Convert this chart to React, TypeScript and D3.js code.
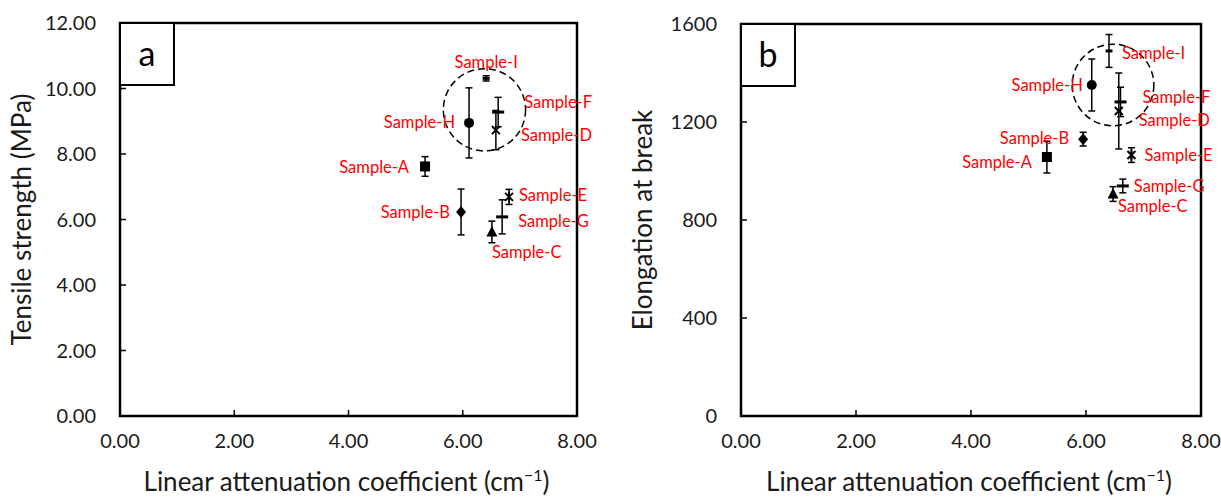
import React from 'react';
import * as d3 from 'd3';

// sample names and markers
const samples = ["Sample-A", "Sample-B", "Sample-C", "Sample-D", "Sample-E", "Sample-F", "Sample-G", "Sample-H", "Sample-I"];
const markers = ["square", "diamond", "triangle", "x", "star", "longbar", "longbar", "circle", "shortbar"];

// panel a: tensile strength
const attenuationA = [5.34, 5.97, 6.51, 6.58, 6.81, 6.62, 6.69, 6.11, 6.41];
const tensile = [7.62, 6.23, 5.62, 8.73, 6.69, 9.28, 6.08, 8.95, 10.31];
const tensileErr = [0.3, 0.7, 0.33, 0.6, 0.23, 0.45, 0.52, 1.07, 0.08];

// panel b: elongation at break
const attenuationB = [5.32, 5.95, 6.47, 6.57, 6.79, 6.6, 6.64, 6.1, 6.4];
const elongation = [1057, 1130, 906, 1245, 1065, 1282, 939, 1351, 1490];
const elongationErr = [65, 28, 30, 155, 30, 60, 28, 106, 67];

const xTicks = [0, 2, 4, 6, 8];
const yTicksA = [0, 2, 4, 6, 8, 10, 12];
const yTicksB = [0, 400, 800, 1200, 1600];

// label placement [anchor, dx, dy]
const labelsA: [string, number, number][] = [
  ["end", -16, 1], ["end", -11, 0], ["start", 0, 20], ["start", 25, 5], ["start", 10, -2],
  ["start", 26, -10], ["start", 16, 4], ["end", -14, -1], ["middle", 0, -16],
];
const labelsB: [string, number, number][] = [
  ["end", -15, 5], ["end", -14, -1], ["start", 5, 12], ["start", 20, 9], ["start", 13, 0],
  ["start", 22, -5], ["start", 11, 0], ["end", -9, 0], ["start", 13, 2],
];

const font = "Lato, 'Open Sans', sans-serif";

function Marker({ type }: { type: string }) {
  if (type === "circle") return <circle r={5} fill="#000" />;
  if (type === "square") return <rect x={-5} y={-5} width={10} height={10} fill="#000" />;
  if (type === "diamond") return <path d="M0,-6L5,0L0,6L-5,0Z" fill="#000" />;
  if (type === "triangle") return <path d="M0,-6L5.5,4.5L-5.5,4.5Z" fill="#000" />;
  if (type === "x") return <path d="M-4,-4L4,4M-4,4L4,-4" stroke="#000" strokeWidth={2} />;
  if (type === "star") return <path d="M-4,-4L4,4M-4,4L4,-4M0,-5.5L0,5.5" stroke="#000" strokeWidth={2} />;
  if (type === "longbar") return <rect x={-6} y={-1.5} width={12} height={3} fill="#000" />;
  return <rect x={-3.5} y={-1.5} width={7} height={3} fill="#000" />;
}

interface PanelProps {
  left: number; top: number; width: number; height: number;
  xs: number[]; ys: number[]; errs: number[];
  yMax: number; yTicks: number[]; yFmt: (d: number) => string;
  yTitle: string; letter: string; labels: [string, number, number][];
  ring: [number, number, number];
}

function Panel(p: PanelProps) {
  const x = d3.scaleLinear().domain([0, 8]).range([p.left, p.left + p.width]);
  const y = d3.scaleLinear().domain([0, p.yMax]).range([p.top + p.height, p.top]);
  const bottom = p.top + p.height;
  return (
    <g>
      {/* dashed ring around the cluster */}
      <circle cx={x(p.ring[0])} cy={y(p.ring[1])} r={x(p.ring[2]) - x(0)} fill="none" stroke="#000" strokeWidth={1.5} strokeDasharray="7,4" />
      {/* frame */}
      <rect x={p.left} y={p.top} width={p.width} height={p.height} fill="none" stroke="#000" strokeWidth={2.5} />
      {/* letter box */}
      <rect x={p.left} y={p.top} width={54} height={62} fill="#fff" stroke="#000" strokeWidth={2} />
      <text x={p.left + 27} y={p.top + 43} textAnchor="middle" fontSize={34} fontFamily={font}>{p.letter}</text>
      {/* ticks */}
      {xTicks.slice(1, -1).map(t => (
        <line key={"xt" + t} x1={x(t)} x2={x(t)} y1={bottom} y2={bottom - 6} stroke="#000" strokeWidth={1.5} />
      ))}
      {p.yTicks.slice(1, -1).map(t => (
        <line key={"yt" + t} x1={p.left} x2={p.left + 6} y1={y(t)} y2={y(t)} stroke="#000" strokeWidth={1.5} />
      ))}
      {xTicks.map(t => (
        <text key={"xl" + t} x={x(t)} y={bottom + 32} textAnchor="middle" fontSize={20} fontFamily={font} fill="#1a1a1a">{t.toFixed(2)}</text>
      ))}
      {p.yTicks.map(t => (
        <text key={"yl" + t} x={p.left - 24} y={y(t)} dy="0.35em" textAnchor="end" fontSize={20} fontFamily={font} fill="#1a1a1a">{p.yFmt(t)}</text>
      ))}
      {/* axis titles */}
      <text x={p.left + p.width / 2 - 2} y={bottom + 75} textAnchor="middle" fontSize={26} fontFamily={font} fill="#1a1a1a">
        Linear attenuation coefficient (cm<tspan dy={-10} fontSize={16}>−1</tspan><tspan dy={10}>)</tspan>
      </text>
      <text transform={`translate(${p.left - 89},${p.top + p.height / 2}) rotate(-90)`} textAnchor="middle" fontSize={26} fontFamily={font} fill="#1a1a1a">{p.yTitle}</text>
      {/* points */}
      {samples.map((s, i) => {
        const cx = x(p.xs[i]);
        const cy = y(p.ys[i]);
        const y1 = y(p.ys[i] + p.errs[i]);
        const y2 = y(p.ys[i] - p.errs[i]);
        const [anchor, dx, dy] = p.labels[i];
        return (
          <g key={s}>
            <line x1={cx} x2={cx} y1={y1} y2={y2} stroke="#000" strokeWidth={1.5} />
            <line x1={cx - 3.5} x2={cx + 3.5} y1={y1} y2={y1} stroke="#000" strokeWidth={1.5} />
            <line x1={cx - 3.5} x2={cx + 3.5} y1={y2} y2={y2} stroke="#000" strokeWidth={1.5} />
            <g transform={`translate(${cx},${cy})`}><Marker type={markers[i]} /></g>
            <text x={cx + dx} y={cy + dy} dy="0.35em" textAnchor={anchor} fontSize={16.5} fontFamily={font} fill="#ff0000">{s}</text>
          </g>
        );
      })}
    </g>
  );
}

export default function App() {
  return (
    <svg width={1221} height={500} style={{ display: "block", position: "absolute", left: 0, top: 0 }}>
      <rect width={1221} height={500} fill="#fff" />
      <Panel left={120} top={23} width={457} height={393} xs={attenuationA} ys={tensile} errs={tensileErr}
        yMax={12} yTicks={yTicksA} yFmt={d => d.toFixed(2)} yTitle="Tensile strength (MPa)" letter="a"
        labels={labelsA} ring={[6.38, 9.35, 0.72]} />
      <Panel left={741} top={24} width={460} height={392} xs={attenuationB} ys={elongation} errs={elongationErr}
        yMax={1600} yTicks={yTicksB} yFmt={d => String(d)} yTitle="Elongation at break" letter="b"
        labels={labelsB} ring={[6.47, 1351, 0.71]} />
    </svg>
  );
}
